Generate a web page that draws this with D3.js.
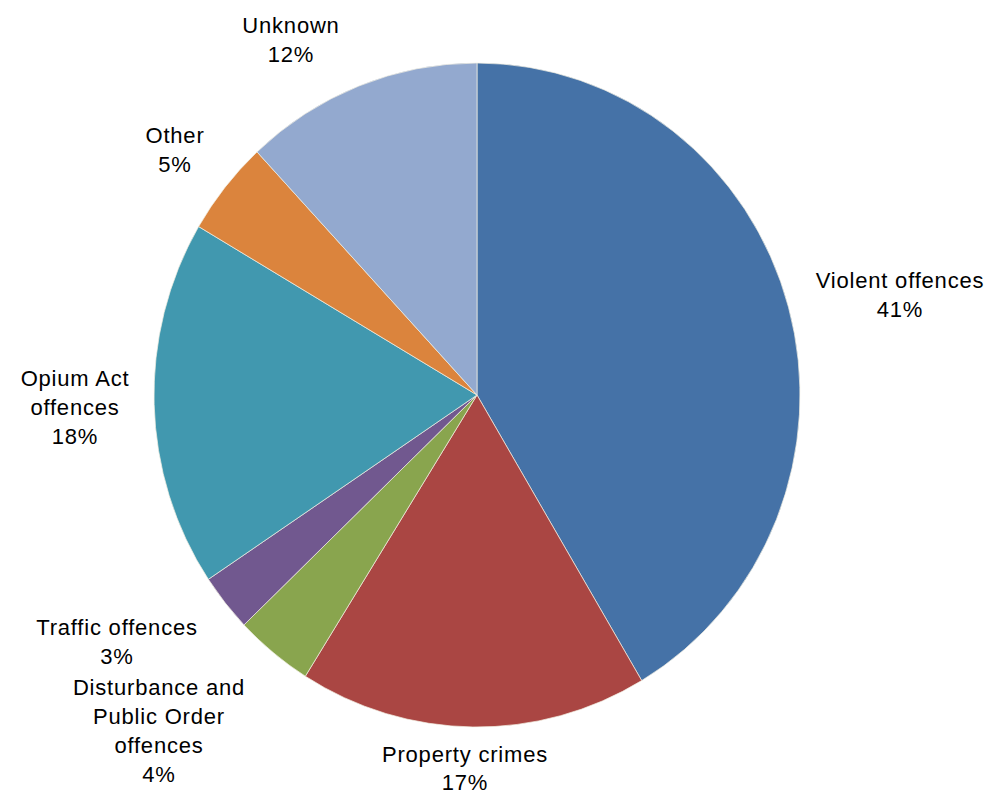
<!DOCTYPE html>
<html>
<head>
<meta charset="utf-8">
<script src="https://cdn.jsdelivr.net/npm/d3@7"></script>
<style>
  html, body { margin: 0; padding: 0; background: #ffffff; }
  svg { display: block; }
</style>
</head>
<body>
<svg id="chart" width="993" height="796"></svg>
<script>
// ---- data ----
const categories = ["Violent offences", "Property crimes", "Disturbance and Public Order offences", "Traffic offences", "Opium Act offences", "Other", "Unknown"];
const values = [41.4, 17.4, 3.9, 2.8, 17.8, 4.6, 11.9];
const colors = ["#4572A7", "#AA4643", "#89A54E", "#71588F", "#4198AF", "#DB843D", "#93A9CF"];

// ---- layout (label wrapping and placement, in pixels) ----
const labelLines = [
  ["Violent offences"],
  ["Property crimes"],
  ["Disturbance and", "Public Order", "offences"],
  ["Traffic offences"],
  ["Opium Act", "offences"],
  ["Other"],
  ["Unknown"]
];
const labelPos = [
  [900, 288], [465, 762], [159, 695], [117, 635], [75, 386], [175, 143], [291, 33]
];

const W = 993, H = 796;
const cx = 477, cy = 395, rx = 323, ry = 332;
const fontSize = 22, lineH = 29;

const svg = d3.select("#chart");
const total = d3.sum(values);
const fmt = d3.format(".0%");

const pie = d3.pie().sort(null).value(d => d)(values);
const arc = d3.arc().innerRadius(0).outerRadius(rx);

const g = svg.append("g")
  .attr("transform", `translate(${cx},${cy}) scale(1,${ry / rx})`);

g.selectAll("path.slice")
  .data(pie)
  .join("path")
  .attr("class", "slice")
  .attr("d", arc)
  .attr("fill", (d, i) => colors[i])
  .attr("stroke", "#f2efe2")
  .attr("stroke-opacity", 0.7)
  .attr("stroke-width", 1)
  .attr("vector-effect", "non-scaling-stroke");

const labels = svg.append("g")
  .attr("font-family", "'Liberation Sans', Arial, sans-serif")
  .attr("font-size", fontSize)
  .attr("letter-spacing", "0.8px")
  .attr("fill", "#000")
  .attr("text-anchor", "middle");

categories.forEach((c, i) => {
  const lines = labelLines[i].concat([fmt(values[i] / total)]);
  const t = labels.append("text")
    .attr("x", labelPos[i][0])
    .attr("y", labelPos[i][1]);
  lines.forEach((ln, k) => {
    t.append("tspan")
      .attr("x", labelPos[i][0])
      .attr("dy", k === 0 ? 0 : (i === 1 ? lineH - 1 : lineH))
      .text(ln);
  });
});
</script>
</body>
</html>
